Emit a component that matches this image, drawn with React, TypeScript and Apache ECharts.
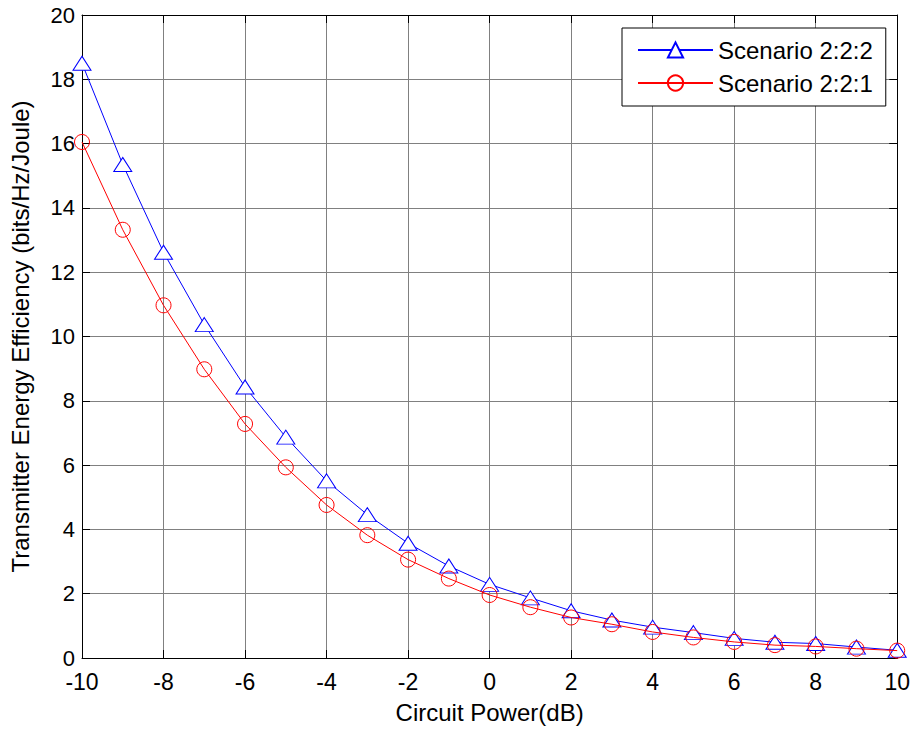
import React, { useEffect, useRef } from "react";
import * as echarts from "echarts";

const xValues = [-10, -9, -8, -7, -6, -5, -4, -3, -2, -1, 0, 1, 2, 3, 4, 5, 6, 7, 8, 9, 10];
const scenario222 = [18.5, 15.35, 12.62, 10.37, 8.43, 6.87, 5.51, 4.46, 3.57, 2.86, 2.29, 1.87, 1.47, 1.18, 0.96, 0.79, 0.61, 0.49, 0.45, 0.34, 0.24];
const scenario221 = [16.05, 13.32, 10.97, 8.98, 7.28, 5.93, 4.76, 3.82, 3.06, 2.47, 1.96, 1.58, 1.26, 1.05, 0.81, 0.64, 0.5, 0.4, 0.36, 0.29, 0.23];
const seriesNames = ["Scenario 2:2:2", "Scenario 2:2:1"];
const xTitle = "Circuit Power(dB)";
const yTitle = "Transmitter Energy Efficiency (bits/Hz/Joule)";

const FONT = "'Liberation Sans', Arial, Helvetica, sans-serif";

export default function App() {
  const ref = useRef<HTMLDivElement>(null);
  useEffect(() => {
    if (!ref.current) return;
    const chart = echarts.init(ref.current, null, { renderer: "svg" });
    const pair = (ys: number[]) => xValues.map((x, i) => [x, ys[i]]);
    const tickStyle = { show: true, inside: true, length: 8, lineStyle: { color: "#000", width: 1 } };
    const axisLineStyle = { show: true, onZero: false, lineStyle: { color: "#000", width: 1 } };
    const splitStyle = { show: true, lineStyle: { color: "#808080", width: 1 } };
    chart.setOption({
      animation: false,
      backgroundColor: "#fff",
      textStyle: { fontFamily: FONT },
      grid: { left: 82, right: 15, top: 15, bottom: 71, containLabel: false },
      legend: {
        orient: "vertical",
        left: 622,
        top: 28,
        itemWidth: 75,
        itemHeight: 19,
        itemGap: 9,
        padding: [10, 13, 11, 15],
        borderColor: "#000",
        borderWidth: 1,
        borderRadius: 0,
        backgroundColor: "#fff",
        textStyle: { fontFamily: FONT, fontSize: 24, color: "#000" },
        data: seriesNames,
      },
      xAxis: [
        {
          type: "value",
          min: -10,
          max: 10,
          interval: 2,
          position: "bottom",
          axisLine: axisLineStyle,
          axisTick: tickStyle,
          splitLine: splitStyle,
          axisLabel: { color: "#000", fontSize: 23, lineHeight: 20, fontFamily: FONT, margin: 14 },
          name: xTitle,
          nameLocation: "middle",
          nameGap: 42,
          nameTextStyle: { color: "#000", fontSize: 24, fontFamily: FONT },
        },
        {
          type: "value",
          min: -10,
          max: 10,
          interval: 2,
          position: "top",
          axisLine: axisLineStyle,
          axisTick: tickStyle,
          splitLine: { show: false },
          axisLabel: { show: false },
        },
      ],
      yAxis: [
        {
          type: "value",
          min: 0,
          max: 20,
          interval: 2,
          position: "left",
          axisLine: axisLineStyle,
          axisTick: tickStyle,
          splitLine: splitStyle,
          axisLabel: { color: "#000", fontSize: 22, lineHeight: 18, fontFamily: FONT, margin: 7 },
          name: yTitle,
          nameLocation: "middle",
          nameGap: 50,
          nameTextStyle: { color: "#000", fontSize: 24, fontFamily: FONT },
        },
        {
          type: "value",
          min: 0,
          max: 20,
          interval: 2,
          position: "right",
          axisLine: axisLineStyle,
          axisTick: tickStyle,
          splitLine: { show: false },
          axisLabel: { show: false },
        },
      ],
      series: [
        {
          name: seriesNames[0],
          type: "line",
          data: pair(scenario222),
          symbol: "triangle",
          symbolSize: [18, 14],
          showAllSymbol: true,
          lineStyle: { color: "#0000ff", width: 1 },
          itemStyle: { color: "#ffffff", borderColor: "#0000ff", borderWidth: 1 },
          color: "#0000ff",
          z: 3,
        },
        {
          name: seriesNames[1],
          type: "line",
          data: pair(scenario221),
          symbol: "circle",
          symbolSize: 15,
          showAllSymbol: true,
          lineStyle: { color: "#ff0000", width: 1 },
          itemStyle: { color: "rgba(255,255,255,0)", borderColor: "#ff0000", borderWidth: 1 },
          color: "#ff0000",
          z: 4,
        },
      ],
    });
    return () => chart.dispose();
  }, []);
  return <div ref={ref} style={{ width: 913, height: 729, position: "absolute", left: 0, top: 0 }} />;
}
